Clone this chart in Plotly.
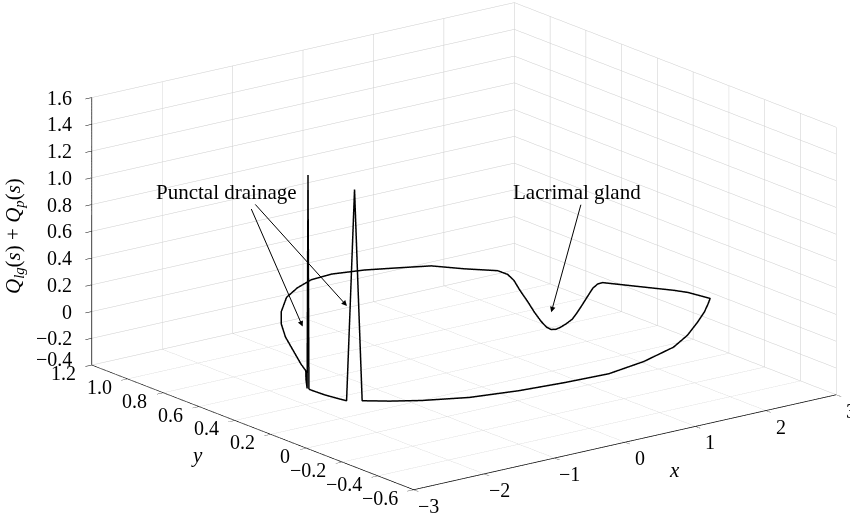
import plotly.graph_objects as go

# Boundary flux Q_lg(s) + Q_p(s) along the eye-shaped domain boundary.
# Path: nasal canthus (upper punctum spike) -> upper lid -> temporal canthus
# -> lower lid (lower punctum spike) -> back to nasal canthus.

# nasal canthus: upper punctal drainage spike
spike1_x = [-2.85, -2.85, -2.85]
spike1_y = [0.045, 0.05, 0.055]
spike1_z = [0.0, 1.6, 0.0]

# upper lid, nasal -> temporal (lacrimal gland supply dips below zero)
upper_x = [-2.65, -2.45, -2.34, -2.095, -1.85, -1.58, -1.30, -0.92, -0.60, -0.29,
           0.025, 0.41, 0.77, 1.11, 1.34, 1.595, 1.66, 1.70, 1.74, 1.79, 1.83, 1.87,
           1.905, 1.935, 1.965, 1.995, 2.03, 2.07, 2.10, 2.135, 2.17, 2.20, 2.23,
           2.26, 2.40, 2.57, 2.72, 2.80, 2.86]
upper_y = [0.14, 0.22, 0.29, 0.43, 0.57, 0.70, 0.81, 0.93, 0.995, 1.04,
           1.05, 1.02, 0.97, 0.92, 0.825, 0.74, 0.71, 0.69, 0.672, 0.647, 0.627, 0.607,
           0.59, 0.576, 0.561, 0.546, 0.529, 0.51, 0.496, 0.478, 0.461, 0.446, 0.431,
           0.416, 0.35, 0.27, 0.20, 0.15, 0.05]
upper_z = [0.0, 0.0, 0.0, 0.0, 0.0, 0.0, 0.0, 0.0, 0.0, 0.0,
           0.0, 0.0, 0.0, 0.0, 0.0, 0.0, -0.02, -0.06, -0.13, -0.21, -0.28, -0.34,
           -0.38, -0.395, -0.39, -0.37, -0.34, -0.30, -0.25, -0.18, -0.11, -0.05, -0.015,
           0.0, 0.0, 0.0, 0.0, 0.0, 0.0]

# lower lid, temporal -> nasal, with lower punctal drainage spike
lower_x = [2.70, 2.50, 2.20, 1.80, 1.40, 0.80, 0.20, -0.40, -1.00, -1.60, -2.10,
           -2.40, -2.64, -2.675, -2.71, -2.745, -2.78, -2.80, -2.84, -2.85]
lower_y = [0.0, -0.06, -0.14, -0.24, -0.32, -0.39, -0.43, -0.42, -0.40, -0.36, -0.29,
           -0.23, -0.17, -0.162, -0.155, -0.147, -0.138, -0.11, -0.04, 0.02]
lower_z = [0.0, 0.0, 0.0, 0.0, 0.0, 0.0, 0.0, 0.0, 0.0, 0.0, 0.0,
           0.0, 0.0, 0.8, 1.58, 0.8, 0.0, 0.0, 0.0, 0.0]

x_ticks = [-3, -2, -1, 0, 1, 2, 3]
y_ticks = [-0.6, -0.4, -0.2, 0, 0.2, 0.4, 0.6, 0.8, 1.0, 1.2]
z_ticks = [-0.4, -0.2, 0, 0.2, 0.4, 0.6, 0.8, 1.0, 1.2, 1.4, 1.6]

x_range = [-3, 3]
y_range = [-0.6, 1.2]
z_range = [-0.4, 1.6]


def tick_label(v, fmt):
    return (fmt.format(v) if v != 0 else "0").replace("-", "\u2212")


X = spike1_x + upper_x + lower_x + spike1_x[:1]
Y = spike1_y + upper_y + lower_y + spike1_y[:1]
Z = spike1_z + upper_z + lower_z + spike1_z[:1]

SERIF = "Liberation Serif"
tick_font = dict(family=SERIF, size=20, color="black")
label_font = dict(family=SERIF, size=21, color="black")

fig = go.Figure()
fig.add_trace(go.Scatter3d(
    x=X, y=Y, z=Z, mode="lines",
    line=dict(color="black", width=3),
    hoverinfo="skip", showlegend=False,
))

axis_style = dict(
    showbackground=False, showgrid=True, gridcolor="#cccccc", gridwidth=1,
    showline=True, linecolor="black", linewidth=1.5,
    ticks="outside", tickcolor="black", ticklen=8, tickwidth=1,
    zeroline=False, showspikes=False, mirror=False,
    showticklabels=False, title=dict(text=""),
)

# tick labels and axis titles, placed along the labelled box edges
edge_labels = []
for v in z_ticks:
    # the lowest z label sits a little higher so it clears the y label at the corner
    lift = 6 if v == z_range[0] else 0
    edge_labels.append(dict(x=x_range[0], y=y_range[1], z=v, text=tick_label(v, "{:.1f}"),
                            showarrow=False, xanchor="right", yanchor="middle",
                            xshift=-18, yshift=lift, font=tick_font))
for v in y_ticks:
    edge_labels.append(dict(x=x_range[0], y=v, z=z_range[0], text=tick_label(v, "{:.1f}"),
                            showarrow=False, xanchor="right", yanchor="middle",
                            xshift=-14, yshift=-8, font=tick_font))
for v in x_ticks:
    edge_labels.append(dict(x=v, y=y_range[0], z=z_range[0], text=tick_label(v, "{:g}"),
                            showarrow=False, xanchor="center", yanchor="middle",
                            xshift=15, yshift=-16, font=tick_font))
edge_labels.append(dict(x=0.7, y=y_range[0], z=z_range[0], text="<i>x</i>", showarrow=False,
                        yshift=-39, font=label_font))
edge_labels.append(dict(x=x_range[0], y=0.3, z=z_range[0], text="<i>y</i>", showarrow=False,
                        xshift=-56, yshift=-28, font=label_font))

# annotation anchors (data coordinates)
punct_tip1 = dict(x=-2.85, y=0.08, z=0.45)
punct_tip2 = dict(x=-2.78, y=-0.14, z=0.71)
gland_tip = dict(x=1.95, y=0.58, z=-0.27)

arrow_style = dict(showarrow=True, arrowhead=2, arrowsize=1.1, arrowwidth=1,
                   arrowcolor="black", text="")

callouts = [
    dict(arrow_style, **punct_tip1, ax=-52, ay=-119),
    dict(arrow_style, **punct_tip2, ax=-93, ay=-103),
    dict(**punct_tip1, text="Punctal drainage", showarrow=False,
         xshift=-76, yshift=135, font=label_font),
    dict(arrow_style, **gland_tip, ax=30, ay=-109),
    dict(**gland_tip, text="Lacrimal gland", showarrow=False,
         xshift=26, yshift=120, font=label_font),
]

# orthographic view: azimuth about -37.5 deg, elevation about 17 deg
box_scale = 2.055
view_dir = (-0.579, -0.760, 0.295)
look_at = (-0.1285, 0.0804, -0.0457)
eye_dist = 1.9

fig.update_layout(
    width=850, height=517,
    margin=dict(l=0, r=0, t=0, b=0),
    paper_bgcolor="white",
    font=dict(family=SERIF, color="black"),
    scene=dict(
        domain=dict(x=[0.0, 1.0], y=[0.0, 1.0]),
        xaxis=dict(axis_style, range=x_range, tickvals=x_ticks),
        yaxis=dict(axis_style, range=y_range, tickvals=y_ticks),
        zaxis=dict(axis_style, range=z_range, tickvals=z_ticks),
        aspectmode="manual",
        aspectratio=dict(x=box_scale, y=box_scale, z=0.527 * box_scale),
        camera=dict(
            eye=dict(x=look_at[0] + view_dir[0] * eye_dist,
                     y=look_at[1] + view_dir[1] * eye_dist,
                     z=look_at[2] + view_dir[2] * eye_dist),
            up=dict(x=0, y=0, z=1),
            center=dict(x=look_at[0], y=look_at[1], z=look_at[2]),
            projection=dict(type="orthographic"),
        ),
        annotations=edge_labels + callouts,
    ),
    annotations=[
        dict(text="<i>Q</i><sub><i>lg</i></sub>(<i>s</i>) + <i>Q</i><sub><i>p</i></sub>(<i>s</i>)",
             xref="paper", yref="paper", x=14 / 850, y=1 - 236 / 517,
             xanchor="center", textangle=-90, showarrow=False, font=label_font),
    ],
)

fig.write_html("out.html", config=dict(displayModeBar=False))
